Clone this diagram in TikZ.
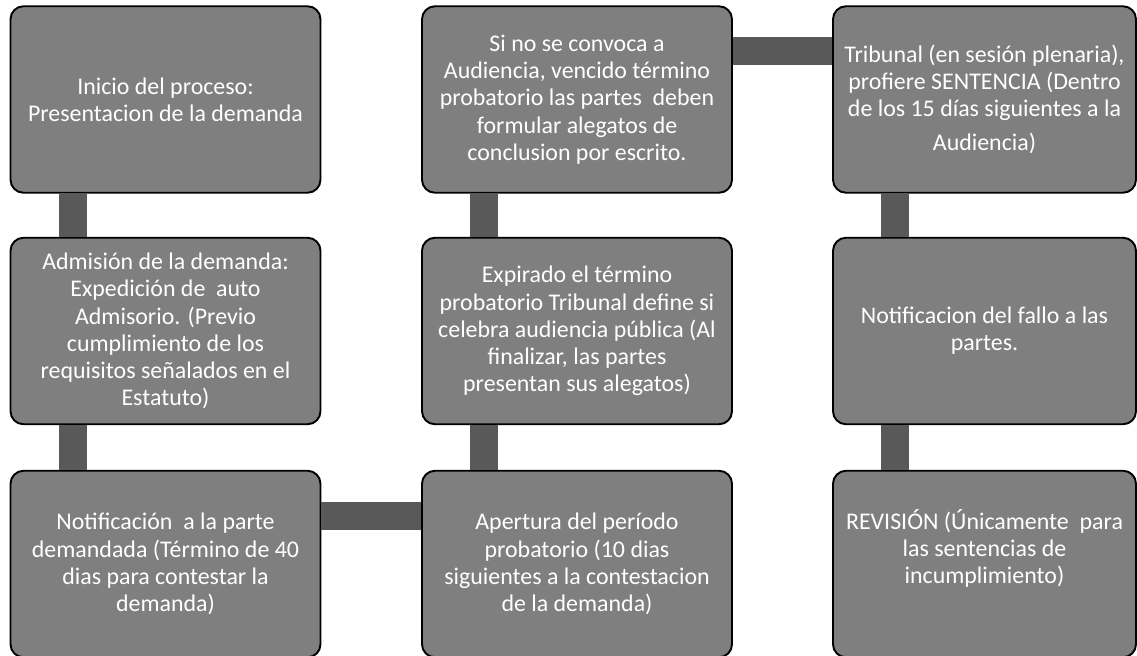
\documentclass[tikz,border=0pt]{standalone}
\usepackage{fontspec}
\setmainfont{Carlito}
\definecolor{cajagris}{HTML}{7F7F7F}
\definecolor{unegris}{HTML}{595959}

\begin{document}
\begin{tikzpicture}[paso/.style={rectangle, rounded corners=0.26cm, draw=black, line width=1.1pt, fill=cajagris, text=white, align=center, minimum width=6.2cm, minimum height=3.73cm, font=\fontsize{13.6}{15.5}\selectfont}, union/.style={-, line width=0.56cm, draw=unegris}]
\useasboundingbox (0,0) rectangle (22.74,-13.1);

% columna izquierda
\node[paso] (iA) at (3.31,-1.99) {Inicio del proceso:\\Presentacion de la demanda};
\node[paso] (iB) at (3.31,-6.62) {Admisión de la demanda:\\Expedición de~ auto\\Admisorio. (Previo\\cumplimiento de los\\requisitos señalados en el\\Estatuto)};
\node[paso] (iC) at (3.31,-11.28) {Notificación~ a la parte\\demandada (Término de 40\\dias para contestar la\\demanda)};

% columna central
\node[paso] (mA) at (11.54,-1.99) {Si no se convoca a\\Audiencia, vencido término\\probatorio las partes~ deben\\formular alegatos de\\conclusion por escrito.};
\node[paso] (mB) at (11.54,-6.62) {Expirado el término\\probatorio Tribunal define si\\celebra audiencia pública (Al\\finalizar, las partes\\presentan sus alegatos)};
\node[paso] (mC) at (11.54,-11.28) {Apertura del período\\probatorio (10 dias\\siguientes a la contestacion\\de la demanda)};

% columna derecha
\node[paso, minimum width=6.06cm] (dA) at (19.69,-1.99) {Tribunal (en sesión plenaria),\\profiere SENTENCIA (Dentro\\de los 15 días siguientes a la\\[4pt]Audiencia)};
\node[paso, minimum width=6.06cm] (dB) at (19.69,-6.62) {Notificacion del fallo a las\\partes.};
\node[paso, minimum width=6.06cm] (dC) at (19.69,-11.28) {REVISIÓN (Únicamente~ para\\las sentencias de\\incumplimiento)\\ \strut};

\draw[union] ([xshift=1.26cm]iA.south west) -- ([xshift=1.26cm]iB.north west);
\draw[union] ([xshift=1.26cm]iB.south west) -- ([xshift=1.26cm]iC.north west);
\draw[union] ([yshift=-0.92cm]iC.north east) -- ([yshift=-0.92cm]mC.north west);
\draw[union] ([xshift=1.26cm]mC.north west) -- ([xshift=1.26cm]mB.south west);
\draw[union] ([xshift=1.26cm]mB.north west) -- ([xshift=1.26cm]mA.south west);
\draw[union] ([yshift=-0.92cm]mA.north east) -- ([yshift=-0.92cm]dA.north west);
\draw[union] ([xshift=1.26cm]dA.south west) -- ([xshift=1.26cm]dB.north west);
\draw[union] ([xshift=1.26cm]dB.south west) -- ([xshift=1.26cm]dC.north west);

\end{tikzpicture}
\end{document}
